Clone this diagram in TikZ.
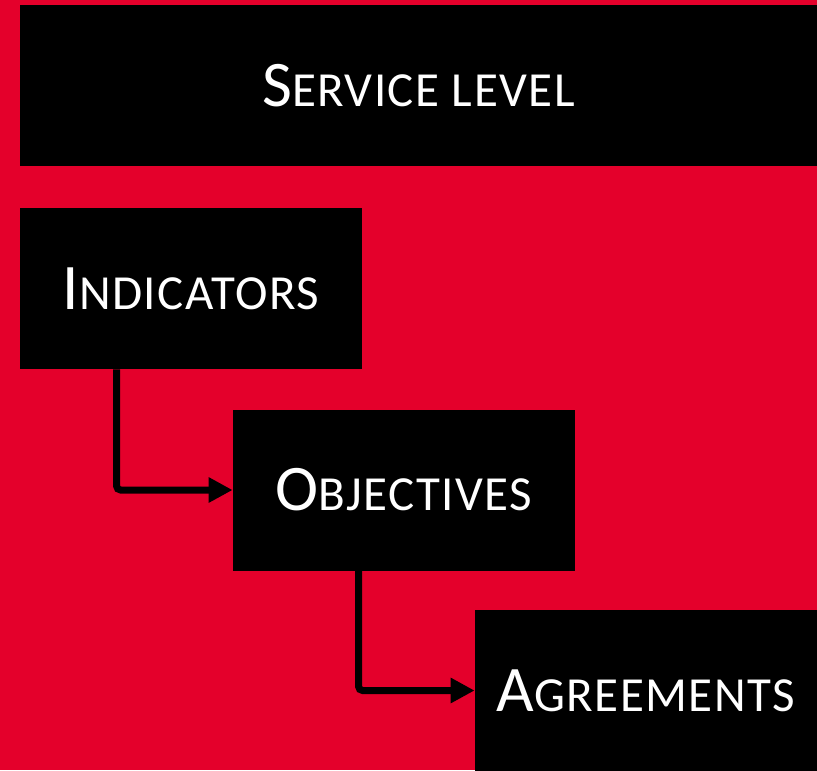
\documentclass[tikz,border=0pt]{standalone}
\usepackage{fontspec}
\setmainfont{Carlito}[LetterSpace=3]
\usetikzlibrary{arrows.meta}
\definecolor{bgred}{RGB}{228,0,43}
\newcommand{\capsc}[2]{{\fontsize{32.5}{32.5}\selectfont #1}{\fontsize{24.5}{24.5}\selectfont #2}}

\begin{document}
\begin{tikzpicture}[x=0.5pt,y=-0.5pt,
  box/.style={fill=black,text=white,minimum width=171pt,minimum height=80.5pt,inner sep=0pt},
  link/.style={line width=3.5pt,rounded corners=2pt,-{Triangle[length=12pt,width=12pt]}}]
\fill[bgred] (0,0) rectangle (817,770);
\useasboundingbox (0,0) rectangle (817,770);

\node[box,minimum width=398.5pt] (svc) at (418.5,85.5) {\capsc{S}{ERVICE LEVEL}};
    \node[box] (ind) at (191,288.5) {\capsc{I}{NDICATORS}};
    \node[box] (obj) at (404,490) {\capsc{O}{BJECTIVES}};
    \node[box] (agr) at (646,690.5) {\capsc{A}{GREEMENTS}};

    \draw[link] ([xshift=48.5pt]ind.south west) |- (obj.west);
    \draw[link] ([xshift=63pt]obj.south west) |- (agr.west);
\end{tikzpicture}
\end{document}
